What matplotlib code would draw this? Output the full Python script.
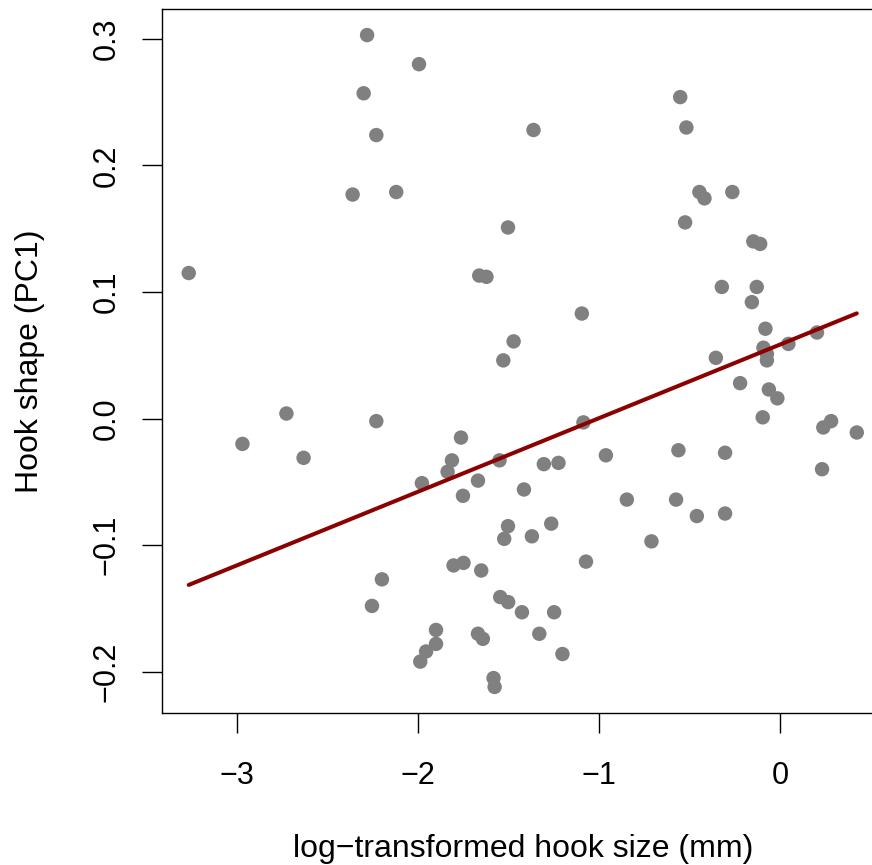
import numpy as np
import matplotlib
matplotlib.use("Agg")
import matplotlib.pyplot as plt

plt.rcParams['font.family'] = ['Liberation Sans', 'DejaVu Sans']

# log-transformed hook size (mm)
hook_size = [
    -2.283, -1.996, -2.302, -2.232, -2.363, -2.122, -1.504, -3.269, -1.663, -1.623,
    -1.473, -1.530, -0.552, -0.518, -1.363, -0.446, -0.418, -0.264, -0.525, -0.148,
    -0.110, -0.322, -0.129, -0.156, -1.096, -0.081, 0.046, 0.204, -0.092, -0.073,
    -0.355, -0.073, -0.221, -0.062, -0.015, -0.096, 0.239, 0.282, 0.424, 0.232,
    -1.087, -2.729, -2.972, -2.634, -2.232, -1.764, -1.814, -1.838, -1.551, -1.980,
    -1.670, -1.753, -1.416, -1.306, -1.225, -0.963, -0.562, -0.304, -1.504, -1.525,
    -1.372, -1.265, -0.847, -0.575, -0.460, -0.304, -0.711, -1.073, -1.805, -1.750,
    -1.652, -2.201, -2.256, -1.547, -1.503, -1.427, -1.249, -1.331, -1.203, -1.902,
    -1.902, -1.957, -1.989, -1.670, -1.643, -1.584, -1.578,
]
# hook shape (PC1)
hook_shape = [
    0.303, 0.280, 0.257, 0.224, 0.177, 0.179, 0.151, 0.115, 0.113, 0.112,
    0.061, 0.046, 0.254, 0.230, 0.228, 0.179, 0.174, 0.179, 0.155, 0.140,
    0.138, 0.104, 0.104, 0.092, 0.083, 0.071, 0.059, 0.068, 0.056, 0.051,
    0.048, 0.046, 0.028, 0.023, 0.016, 0.001, -0.007, -0.002, -0.011, -0.040,
    -0.003, 0.004, -0.020, -0.031, -0.002, -0.015, -0.033, -0.042, -0.033, -0.051,
    -0.049, -0.061, -0.056, -0.036, -0.035, -0.029, -0.025, -0.027, -0.085, -0.095,
    -0.093, -0.083, -0.064, -0.064, -0.077, -0.075, -0.097, -0.113, -0.116, -0.114,
    -0.120, -0.127, -0.148, -0.141, -0.145, -0.153, -0.153, -0.170, -0.186, -0.167,
    -0.178, -0.184, -0.192, -0.170, -0.174, -0.205, -0.212,
]
# fitted model shown as the red line
fit_intercept = 0.0585
fit_slope = 0.0581

x_ticks = [-3, -2, -1, 0]
y_ticks = [-0.2, -0.1, 0.0, 0.1, 0.2, 0.3]
x_label = "log\u2212transformed hook size (mm)"
y_label = "Hook shape (PC1)"

x = np.array(hook_size)
y = np.array(hook_shape)

fig = plt.figure(figsize=(8.72, 8.65), dpi=100)
# right side of the plot box runs past the picture edge, as in the original
ax = fig.add_axes([162 / 872, 1 - 713 / 865, 721.5 / 872, 704 / 865])

ax.scatter(x, y, s=108, color='#808080', edgecolors='none', zorder=2)

xs = np.array([x.min(), x.max()])
ax.plot(xs, fit_intercept + fit_slope * xs, color='#8B0000', lw=2.9,
        solid_capstyle='round', zorder=3)

# R style 4% padding
xr = x.max() - x.min()
yr = y.max() - y.min()
ax.set_xlim(x.min() - 0.04 * xr, x.max() + 0.04 * xr)
ax.set_ylim(y.min() - 0.04 * yr, y.max() + 0.04 * yr)

ax.set_xticks(x_ticks)
ax.set_xticklabels(["\u2212" + str(-t) if t < 0 else str(t) for t in x_ticks])
ax.set_yticks(y_ticks)
ax.set_yticklabels(["\u2212%.1f" % -t if t < 0 else "%.1f" % t for t in y_ticks],
                   rotation=90, va='center')

for sp in ax.spines.values():
    sp.set_linewidth(1.0)
ax.tick_params(axis='both', direction='out', length=14.4, width=1.0,
               labelsize=22, colors='black')
ax.tick_params(axis='x', pad=20.5)
ax.tick_params(axis='y', pad=14.5)

fig.text(522.7 / 872, 1 - 857 / 865, x_label, fontsize=23,
         ha='center', va='baseline')
fig.text(37.7 / 872, 1 - 361 / 865, y_label, fontsize=23, rotation=90,
         rotation_mode='anchor', ha='center', va='baseline')

fig.savefig("out.png", dpi=100)
